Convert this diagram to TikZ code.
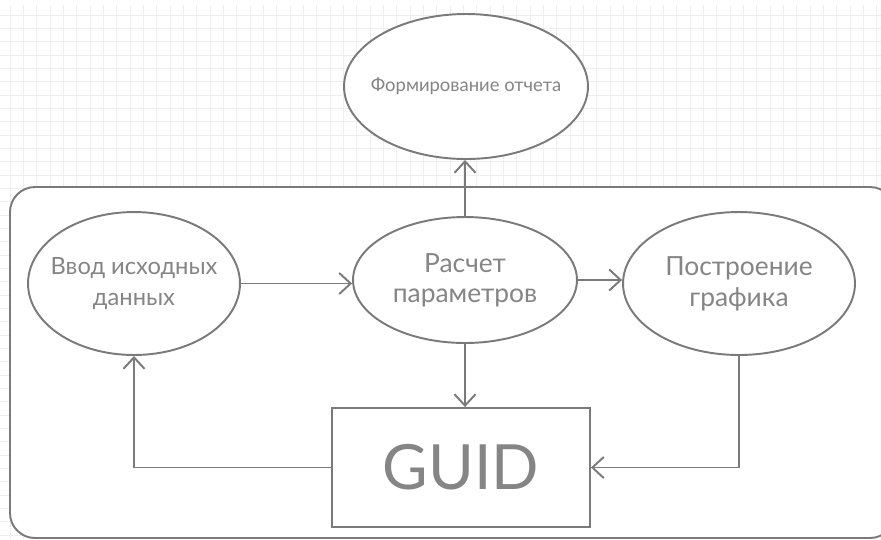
\documentclass[tikz,border=0pt]{standalone}
\usepackage{fontspec}
\setmainfont{Lato}
\usetikzlibrary{shapes.geometric, arrows.meta, positioning}
\definecolor{DiagLine}{HTML}{7A7A7A}
\definecolor{DiagText}{HTML}{858585}
\definecolor{DiagGrid}{HTML}{EFEFEF}
\tikzset{
    % Node styles
    procoval/.style={
        ellipse,
        draw=DiagLine,
        fill=white,
        line width=1.1pt,
        inner sep=0pt
    },
    guidbox/.style={
        rectangle,
        draw=DiagLine,
        fill=white,
        line width=1.1pt,
        text=DiagText,
        font=\fontsize{35.5}{40}\selectfont
    },
    proctext/.style={
        text=DiagText,
        align=center,
        font=\fontsize{13.5}{17.5}\selectfont
    },
    % Arrow styles
    myarrow/.style={
        -{Straight Barb[length=6.5pt,width=12pt]},
        line width=1.1pt,
        DiagLine
    }
}

\begin{document}
\begin{tikzpicture}[x=0.02cm, y=-0.02cm]
    \useasboundingbox (0,0) rectangle (881,539);
    \clip (0,0) rectangle (881,539);

    % Grid
    \foreach \gx in {0,...,65} {
        \draw[DiagGrid, line width=0.5pt] (10+\gx*13.333,5) -- (10+\gx*13.333,539);
    }
    \foreach \gy in {0,...,39} {
        \draw[DiagGrid, line width=0.5pt] (0,15+\gy*13.333) -- (881,15+\gy*13.333);
    }

    % Frame
    \draw[DiagLine, line width=1.1pt, fill=white, rounded corners=0.5cm] (10,187) rectangle (895,538);

    % Processes
    \node[procoval, minimum width=4.88cm, minimum height=2.9cm,
        label={[proctext, font=\fontsize{10.5}{13}\selectfont]center:Формирование отчета}] (report) at (466,86.5) {};
    \node[procoval, minimum width=4.24cm, minimum height=2.86cm,
        label={[proctext]center:Ввод исходных\\данных}] (input) at (134,283.5) {};
    \node[procoval, minimum width=4.48cm, minimum height=2.52cm,
        label={[proctext, font=\fontsize{15}{17}\selectfont]center:Расчет\\параметров}] (calc) at (465,280) {};
    \node[procoval, minimum width=4.64cm, minimum height=2.86cm,
        label={[proctext, font=\fontsize{15}{17.5}\selectfont]center:Построение\\графика}] (plot) at (739,283.5) {};

    % GUI block
    \node[guidbox, minimum width=5.16cm, minimum height=2.38cm] (guid) at (461,467.5) {GUID};

    % Flows
    \draw[myarrow] (input.east) -- (input.east -| calc.west);
    \draw[myarrow] (calc.east) -- (calc.east -| plot.west);
    \draw[myarrow] (calc.north) -- (calc.north |- report.south);
    \draw[myarrow] (calc.south) -- (calc.south |- guid.north);
    \draw[myarrow] (guid.west) -| (input.south);
    \draw[myarrow] (plot.south) |- (guid.east);
\end{tikzpicture}
\end{document}
